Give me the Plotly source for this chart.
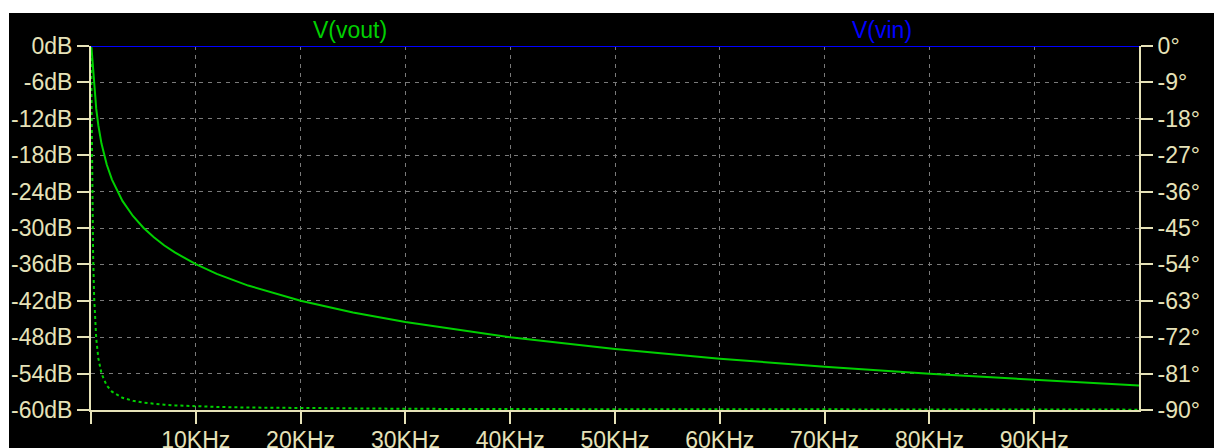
import plotly.graph_objects as go

# Frequency sweep (Hz) and readings from the plot
freq_hz = [0, 50, 100, 150, 200, 300, 400, 500, 700, 1000, 1500, 2000, 3000, 4000,
           5000, 6000, 7000, 8000, 10000, 12000, 15000, 20000, 25000, 30000, 40000,
           50000, 60000, 70000, 80000, 90000, 100000]
vout_db = [0.0, -0.41, -1.45, -2.76, -4.12, -6.59, -8.65, -10.37, -13.09, -16.08, -19.54,
           -22.02, -25.53, -28.02, -29.96, -31.54, -32.88, -34.03, -35.97, -37.56, -39.49,
           -41.99, -43.93, -45.51, -48.01, -49.95, -51.54, -52.87, -54.03, -55.06, -55.97]
vout_deg = [0.0, -17.46, -32.17, -43.3, -51.5, -62.08, -68.33, -72.36, -77.2, -80.97, -83.95,
            -85.45, -86.97, -87.72, -88.18, -88.48, -88.7, -88.86, -89.09, -89.24, -89.39,
            -89.54, -89.64, -89.7, -89.77, -89.82, -89.85, -89.87, -89.89, -89.9, -89.91]
vin_db = [0.0] * len(freq_hz)
vin_deg = [0.0] * len(freq_hz)

x_tickvals = [0, 10000, 20000, 30000, 40000, 50000, 60000, 70000, 80000, 90000]
x_ticktext = ["", "10KHz", "20KHz", "30KHz", "40KHz", "50KHz", "60KHz", "70KHz", "80KHz", "90KHz"]
db_tickvals = [0, -6, -12, -18, -24, -30, -36, -42, -48, -54, -60]
db_ticktext = ["0dB", "-6dB", "-12dB", "-18dB", "-24dB", "-30dB", "-36dB", "-42dB", "-48dB", "-54dB", "-60dB"]
deg_tickvals = [0, -9, -18, -27, -36, -45, -54, -63, -72, -81, -90]
deg_ticktext = ["0°", "-9°", "-18°", "-27°", "-36°", "-45°", "-54°", "-63°", "-72°", "-81°", "-90°"]

GREEN = "#00D000"
BLUE = "#0000FF"
CREAM = "#E6E2B8"
GRID = "#7A7A7A"
FONT = "Liberation Sans"

fig = go.Figure()
fig.add_trace(go.Scatter(x=freq_hz, y=vout_deg, yaxis="y2", mode="lines",
                         line=dict(color=GREEN, width=2, dash="dot"), hoverinfo="skip"))
fig.add_trace(go.Scatter(x=freq_hz, y=vout_db, mode="lines",
                         line=dict(color=GREEN, width=2), hoverinfo="skip"))
fig.add_trace(go.Scatter(x=freq_hz, y=vin_deg, yaxis="y2", mode="lines",
                         line=dict(color=BLUE, width=2, dash="dot"), hoverinfo="skip"))
fig.add_trace(go.Scatter(x=freq_hz, y=vin_db, mode="lines",
                         line=dict(color=BLUE, width=2), hoverinfo="skip"))

axis_font = dict(family=FONT, size=23, color=CREAM)

fig.update_layout(
    width=1214, height=448,
    margin=dict(l=91, r=75, t=46, b=38),
    paper_bgcolor="black", plot_bgcolor="black",
    showlegend=False,
    xaxis=dict(range=[0, 100000], tickvals=x_tickvals, ticktext=x_ticktext,
               showgrid=True, gridcolor=GRID, griddash="4px,5px", gridwidth=1,
               showline=True, linecolor=CREAM, linewidth=2,
               ticks="outside", ticklen=12, tickcolor=CREAM, tickwidth=2,
               tickfont=axis_font, zeroline=False, automargin=False,
               ticklabelstandoff=-4),
    yaxis=dict(range=[-60, 0], tickvals=db_tickvals, ticktext=db_ticktext,
               showgrid=True, gridcolor=GRID, griddash="4px,5px", gridwidth=1,
               showline=True, linecolor=CREAM, linewidth=2,
               ticks="outside", ticklen=12, tickcolor=CREAM, tickwidth=2,
               tickfont=axis_font, zeroline=False, automargin=False),
    yaxis2=dict(range=[-90, 0], tickvals=deg_tickvals, ticktext=deg_ticktext,
                overlaying="y", side="right", showgrid=False,
                showline=True, linecolor=CREAM, linewidth=2,
                ticks="outside", ticklen=12, tickcolor=CREAM, tickwidth=2,
                tickfont=axis_font, zeroline=False, automargin=False),
    shapes=[
        dict(type="rect", xref="paper", yref="paper", x0=-0.2, x1=1.2,
             y0=(410 - 13) / 364, y1=1.3, fillcolor="white", line=dict(width=0), layer="below"),
        dict(type="rect", xref="paper", yref="paper", x0=-0.2, x1=(9 - 91) / 1048,
             y0=-0.2, y1=1.3, fillcolor="white", line=dict(width=0), layer="below"),
    ],
    annotations=[
        dict(text="V(vout)", xref="paper", yref="paper", x=(350 - 91) / 1048, y=(410 - 30) / 364,
             showarrow=False, xanchor="center", yanchor="middle",
             font=dict(family=FONT, size=23, color=GREEN)),
        dict(text="V(vin)", xref="paper", yref="paper", x=(882 - 91) / 1048, y=(410 - 30) / 364,
             showarrow=False, xanchor="center", yanchor="middle",
             font=dict(family=FONT, size=23, color=BLUE)),
    ],
)

fig.write_html("out.html")
